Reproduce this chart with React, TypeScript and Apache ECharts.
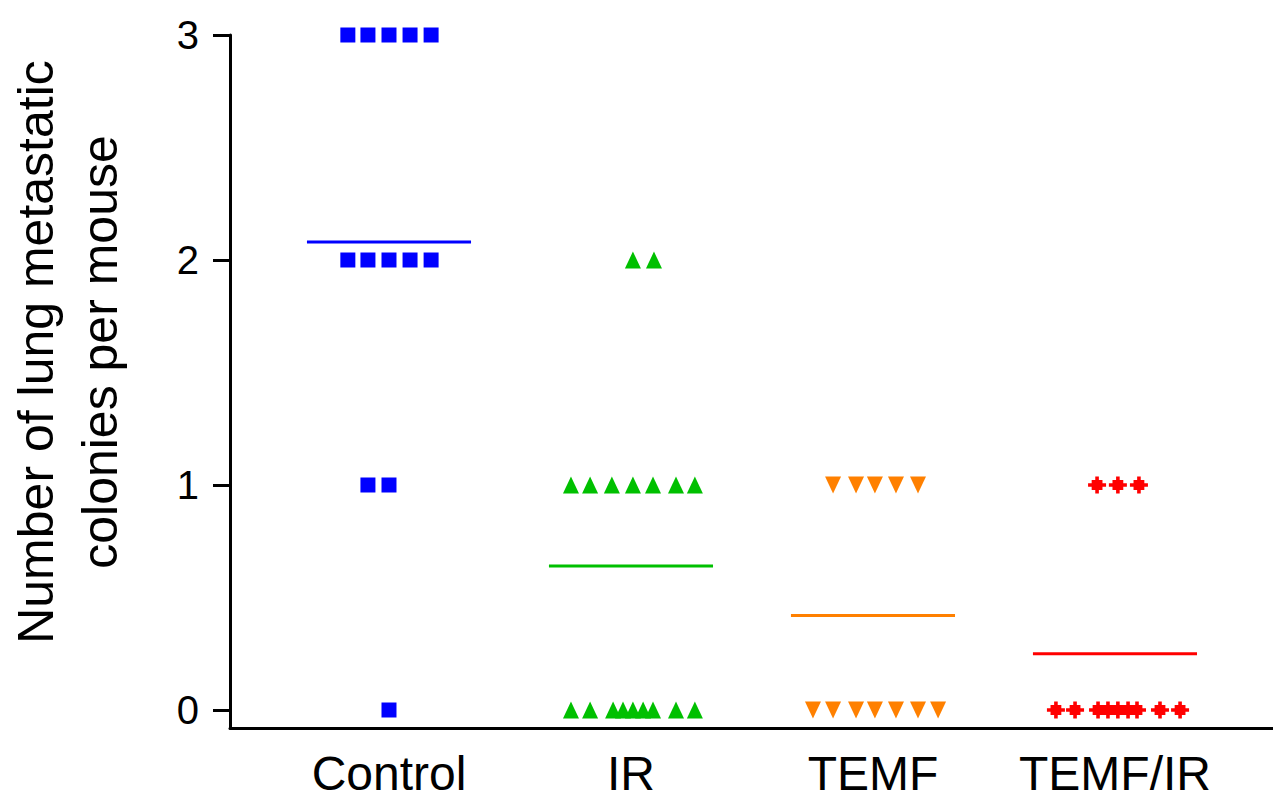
import React, { useEffect, useRef } from "react";
import * as echarts from "echarts";

const categories = ["Control", "IR", "TEMF", "TEMF/IR"];
const yTicks = [0, 1, 2, 3];

// values, one entry per mouse
const controlValues = [3, 3, 3, 3, 3, 2, 2, 2, 2, 2, 1, 1, 0];
const controlJitter = [-0.17, -0.087, 0, 0.087, 0.174, -0.17, -0.087, 0, 0.087, 0.174, -0.087, 0, 0];

const irValues = [2, 2, 1, 1, 1, 1, 1, 1, 1, 0, 0, 0, 0, 0, 0, 0, 0, 0];
const irJitter = [0.008, 0.095, -0.248, -0.169, -0.079, 0.008, 0.091, 0.186, 0.264, -0.248, -0.169, -0.074, -0.033, 0.008, 0.05, 0.091, 0.186, 0.264];

const temfValues = [1, 1, 1, 1, 1, 0, 0, 0, 0, 0, 0, 0];
const temfJitter = [-0.165, -0.07, 0.008, 0.095, 0.186, -0.248, -0.165, -0.07, 0.008, 0.095, 0.186, 0.269];

const temfIrValues = [1, 1, 1, 0, 0, 0, 0, 0, 0, 0, 0, 0];
const temfIrJitter = [-0.074, 0.012, 0.099, -0.244, -0.165, -0.07, -0.029, 0.012, 0.054, 0.091, 0.186, 0.269];

const meanValues = [2.08, 0.64, 0.42, 0.25];
const meanHalfWidth = 0.339;

const colors = ["#0000FF", "#00C000", "#FF8000", "#FF0000"];

const diamondPath =
  "path://M4,0 L6,0 L6,2 L8,2 L8,4 L10,4 L10,6 L8,6 L8,8 L6,8 L6,10 L4,10 L4,8 L2,8 L2,6 L0,6 L0,4 L2,4 L2,2 L4,2 Z";

export default function App() {
  const ref = useRef<HTMLDivElement>(null);
  useEffect(() => {
    if (!ref.current) return;
    const chart = echarts.init(ref.current, null, { renderer: "svg" });
    const groups = [
      { values: controlValues, jitter: controlJitter, symbol: "rect", size: [15, 15], rotate: 0 },
      { values: irValues, jitter: irJitter, symbol: "triangle", size: [16, 17], rotate: 0 },
      { values: temfValues, jitter: temfJitter, symbol: "triangle", size: [16, 17], rotate: 180 },
      { values: temfIrValues, jitter: temfIrJitter, symbol: diamondPath, size: [18, 17], rotate: 0 },
    ];
    const scatterSeries = groups.map((g, i) => ({
      type: "scatter",
      name: categories[i],
      symbol: g.symbol,
      symbolSize: g.size,
      symbolRotate: g.rotate,
      itemStyle: { color: colors[i], opacity: 1 },
      data: g.values.map((v, k) => [i + 1 + g.jitter[k], v]),
      z: 3,
    }));
    const meanSeries = meanValues.map((m, i) => ({
      type: "line",
      symbol: "none",
      lineStyle: { color: colors[i], width: 3 },
      data: [
        [i + 1 - meanHalfWidth, m],
        [i + 1 + meanHalfWidth, m],
      ],
      z: 2,
    }));
    const font = "'Liberation Sans', Arial, sans-serif";
    chart.setOption({
      animation: false,
      backgroundColor: "#ffffff",
      grid: { left: 230, right: 0, top: 35, bottom: 76, containLabel: false },
      xAxis: {
        type: "value",
        min: 0.343,
        max: 4.653,
        splitLine: { show: false },
        axisLine: { show: true, onZero: false, lineStyle: { color: "#000", width: 3 } },
        axisTick: { show: false },
        axisLabel: {
          customValues: [1, 2, 3, 4],
          formatter: (v: number) => categories[Math.round(v) - 1] ?? "",
          fontSize: 48,
          lineHeight: 48,
          fontFamily: font,
          color: "#000",
          margin: 21,
        },
      },
      yAxis: {
        type: "value",
        min: -0.08,
        max: 3,
        splitLine: { show: false },
        axisLine: { show: true, onZero: false, lineStyle: { color: "#000", width: 3 } },
        axisTick: {
          show: true,
          customValues: yTicks,
          length: 17,
          lineStyle: { color: "#000", width: 3 },
        },
        axisLabel: {
          customValues: yTicks,
          fontSize: 40,
          fontFamily: font,
          color: "#000",
          margin: 31,
        },
      },
      graphic: [
        {
          type: "text",
          x: 68,
          y: 352,
          rotation: Math.PI / 2,
          style: {
            text: "Number of lung metastatic\ncolonies per mouse",
            fontSize: 50,
            fontFamily: font,
            fill: "#000",
            align: "center",
            verticalAlign: "middle",
            lineHeight: 64,
          },
        },
      ],
      series: [...meanSeries, ...scatterSeries],
    });
    return () => chart.dispose();
  }, []);
  return (
    <div
      ref={ref}
      style={{ position: "fixed", left: 0, top: 0, width: 1273, height: 804, background: "#fff" }}
    />
  );
}
